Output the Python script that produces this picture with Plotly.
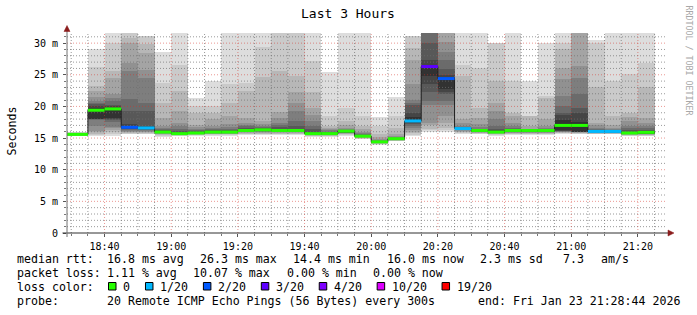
import pandas as pd
import plotly.graph_objects as go

# ---------------- data ----------------
DAY = "2026-01-23 "
window_start = DAY + "18:28:44"
window_end = DAY + "21:28:44"

bar_end_hm = ["18:35", "18:40", "18:45", "18:50", "18:55", "19:00", "19:05", "19:10",
              "19:15", "19:20", "19:25", "19:30", "19:35", "19:40", "19:45", "19:50",
              "19:55", "20:00", "20:05", "20:10", "20:15", "20:20", "20:25", "20:30",
              "20:35", "20:40", "20:45", "20:50", "20:55", "21:00", "21:05", "21:10",
              "21:15", "21:20", "21:25"]

median_ms = [15.58, 19.4, 19.6, 16.7, 16.6, 15.95, 15.7, 15.8, 15.95, 15.95,
             16.2, 16.3, 16.2, 16.2, 15.7, 15.7, 16.1, 15.3, 14.4, 14.9,
             17.7, 26.3, 24.4, 16.5, 16.2, 15.95, 16.2, 16.2, 16.2, 17.0,
             17.0, 16.05, 16.05, 15.8, 15.9]

loss_class = ["0", "0", "0", "2/20", "1/20", "0", "0", "0", "0", "0",
              "0", "0", "0", "0", "0", "0", "0", "0", "0", "0",
              "1/20", "3/20", "2/20", "1/20", "0", "0", "0", "0", "0", "0",
              "0", "1/20", "1/20", "0", "0"]

# smoke layers (outer -> inner): upper bound of each layer (pings 20..11)
smoke_hi = [
    [16.0, 15.9, 15.8, 15.75, 15.7, 15.67, 15.65, 15.63, 15.61, 15.6],
    [29.0, 26.3, 23.2, 22.4, 21.5, 20.8, 20.6, 20.4, 20.0, 19.7],
    [33.0, 30.0, 25.6, 24.5, 21.9, 21.4, 20.8, 20.3, 20.05, 19.8],
    [35.0, 33.0, 30.8, 30.0, 26.9, 25.6, 21.1, 19.3, 17.2, 16.9],
    [31.1, 31.1, 29.8, 28.5, 25.8, 24.5, 20.6, 19.3, 16.9, 16.8],
    [28.6, 23.7, 20.6, 18.2, 16.9, 16.6, 16.4, 16.2, 16.1, 16.0],
    [33.0, 26.5, 22.4, 19.3, 17.4, 16.9, 16.4, 16.1, 15.9, 15.8],
    [21.4, 20.05, 19.0, 17.0, 16.8, 16.5, 16.3, 16.1, 16.0, 15.9],
    [24.0, 20.05, 19.0, 18.0, 16.9, 16.6, 16.4, 16.2, 16.1, 16.0],
    [33.0, 23.5, 20.6, 18.5, 17.3, 16.7, 16.5, 16.3, 16.1, 16.0],
    [33.0, 23.7, 22.4, 18.2, 17.4, 17.1, 16.9, 16.6, 16.4, 16.3],
    [33.0, 29.4, 24.7, 17.7, 17.2, 16.9, 16.7, 16.6, 16.5, 16.4],
    [34.0, 33.0, 25.6, 19.1, 18.2, 17.4, 17.0, 16.7, 16.5, 16.3],
    [34.0, 33.0, 24.8, 22.2, 20.6, 19.3, 17.7, 16.9, 16.5, 16.3],
    [33.0, 27.2, 22.2, 19.8, 18.7, 17.7, 16.9, 16.4, 16.0, 15.8],
    [25.4, 18.5, 16.9, 16.6, 16.4, 16.2, 16.0, 15.9, 15.8, 15.75],
    [33.0, 19.8, 17.7, 17.0, 16.6, 16.4, 16.3, 16.25, 16.2, 16.15],
    [33.0, 18.5, 16.9, 16.4, 16.0, 15.8, 15.6, 15.5, 15.4, 15.35],
    [18.4, 16.9, 15.6, 15.2, 14.9, 14.7, 14.6, 14.5, 14.45, 14.42],
    [21.5, 18.5, 16.6, 15.6, 15.3, 15.1, 15.0, 14.95, 14.92, 14.9],
    [31.1, 31.1, 29.3, 27.4, 23.5, 21.0, 20.5, 20.3, 18.9, 18.4],
    [40.0, 39.0, 38.0, 37.0, 36.0, 35.0, 34.0, 30.0, 27.4, 26.6],
    [40.0, 38.0, 36.0, 34.0, 30.2, 28.6, 27.4, 25.9, 25.0, 24.6],
    [33.0, 26.6, 24.8, 18.0, 17.4, 16.9, 16.8, 16.7, 16.6, 16.55],
    [33.0, 26.1, 19.8, 18.2, 17.2, 16.7, 16.5, 16.4, 16.3, 16.25],
    [30.05, 30.0, 24.0, 20.6, 19.3, 18.0, 16.9, 16.5, 16.2, 16.05],
    [33.0, 24.0, 19.0, 18.5, 17.4, 16.9, 16.6, 16.45, 16.35, 16.25],
    [24.0, 18.5, 18.5, 16.9, 16.5, 16.4, 16.35, 16.3, 16.25, 16.22],
    [30.05, 21.6, 21.3, 18.0, 16.9, 16.6, 16.5, 16.4, 16.3, 16.25],
    [33.0, 30.05, 29.0, 26.1, 24.3, 21.6, 20.05, 18.9, 18.7, 17.8],
    [38.0, 36.0, 34.0, 33.0, 26.4, 24.5, 21.9, 19.8, 18.9, 17.6],
    [30.5, 30.0, 23.0, 17.4, 17.0, 16.6, 16.4, 16.3, 16.2, 16.1],
    [33.0, 24.0, 18.5, 17.0, 16.6, 16.4, 16.3, 16.2, 16.15, 16.1],
    [33.0, 25.1, 19.0, 18.4, 17.7, 16.9, 16.6, 16.2, 16.0, 15.9],
    [33.0, 26.8, 23.0, 18.2, 17.4, 16.9, 16.6, 16.3, 16.0, 15.95],
]
# lower bound of each layer (pings 1..10)
smoke_lo = [
    [15.3, 15.35, 15.4, 15.45, 15.5, 15.52, 15.54, 15.56, 15.57, 15.58],
    [15.3, 15.5, 15.7, 15.9, 16.1, 16.9, 17.9, 17.95, 18.0, 18.0],
    [15.3, 15.6, 16.0, 16.3, 16.6, 16.7, 17.5, 17.9, 18.0, 18.1],
    [15.6, 15.7, 15.8, 15.9, 16.0, 16.1, 16.2, 16.4, 16.5, 16.6],
    [15.6, 15.7, 15.8, 15.9, 16.0, 16.1, 16.2, 16.3, 16.4, 16.5],
    [15.2, 15.4, 15.5, 15.6, 15.7, 15.75, 15.8, 15.85, 15.9, 15.92],
    [15.3, 15.4, 15.45, 15.5, 15.55, 15.6, 15.62, 15.64, 15.66, 15.68],
    [15.4, 15.5, 15.55, 15.6, 15.65, 15.7, 15.72, 15.74, 15.76, 15.78],
    [15.4, 15.5, 15.6, 15.65, 15.7, 15.75, 15.8, 15.85, 15.9, 15.92],
    [15.4, 15.5, 15.6, 15.65, 15.7, 15.75, 15.8, 15.85, 15.9, 15.92],
    [15.5, 15.6, 15.7, 15.8, 15.9, 16.0, 16.05, 16.1, 16.15, 16.18],
    [15.5, 15.6, 15.7, 15.8, 15.9, 16.0, 16.1, 16.15, 16.2, 16.25],
    [15.5, 15.6, 15.7, 15.8, 15.9, 16.0, 16.05, 16.1, 16.15, 16.18],
    [15.5, 15.6, 15.7, 15.8, 15.9, 16.0, 16.05, 16.1, 16.15, 16.18],
    [15.2, 15.3, 15.4, 15.45, 15.5, 15.55, 15.6, 15.62, 15.65, 15.68],
    [15.2, 15.3, 15.4, 15.45, 15.5, 15.55, 15.6, 15.62, 15.65, 15.68],
    [15.4, 15.5, 15.6, 15.7, 15.8, 15.85, 15.9, 15.95, 16.0, 16.05],
    [14.8, 14.9, 15.0, 15.05, 15.1, 15.15, 15.2, 15.22, 15.25, 15.28],
    [13.9, 14.0, 14.1, 14.15, 14.2, 14.25, 14.3, 14.33, 14.36, 14.38],
    [14.5, 14.55, 14.6, 14.65, 14.7, 14.75, 14.8, 14.82, 14.85, 14.87],
    [15.3, 15.5, 15.8, 16.0, 16.2, 16.6, 16.9, 17.2, 17.4, 17.6],
    [15.95, 16.3, 16.5, 17.0, 17.4, 20.3, 20.8, 22.2, 23.5, 24.8],
    [15.95, 16.3, 16.6, 17.4, 18.5, 20.3, 20.8, 21.9, 22.3, 22.7],
    [15.7, 15.8, 15.9, 16.0, 16.1, 16.2, 16.25, 16.3, 16.35, 16.4],
    [15.6, 15.7, 15.8, 15.85, 15.9, 15.95, 16.0, 16.05, 16.1, 16.15],
    [15.3, 15.5, 15.6, 15.7, 15.75, 15.8, 15.85, 15.88, 15.9, 15.92],
    [15.5, 15.6, 15.7, 15.8, 15.85, 15.9, 15.95, 16.0, 16.05, 16.1],
    [15.5, 15.6, 15.7, 15.8, 15.85, 15.9, 15.95, 16.0, 16.05, 16.1],
    [15.5, 15.6, 15.7, 15.8, 15.85, 15.9, 15.95, 16.0, 16.05, 16.1],
    [15.6, 15.75, 15.85, 15.9, 15.95, 16.0, 16.05, 16.1, 16.15, 16.2],
    [15.6, 15.7, 15.8, 15.85, 15.9, 15.92, 15.94, 15.96, 15.98, 16.0],
    [15.6, 15.65, 15.7, 15.75, 15.8, 15.85, 15.9, 15.93, 15.96, 15.98],
    [15.6, 15.65, 15.7, 15.75, 15.8, 15.85, 15.9, 15.93, 15.96, 15.98],
    [15.3, 15.4, 15.5, 15.55, 15.6, 15.65, 15.7, 15.72, 15.75, 15.77],
    [15.3, 15.4, 15.5, 15.55, 15.6, 15.65, 15.7, 15.72, 15.75, 15.77],
]

x_tick_labels = ["18:40", "19:00", "19:20", "19:40", "20:00", "20:20", "20:40", "21:00", "21:20"]
y_tick_values = [0, 5, 10, 15, 20, 25, 30]
y_tick_labels = ["0", "5 m", "10 m", "15 m", "20 m", "25 m", "30 m"]
y_max = 31.6

loss_legend = ["0", "1/20", "2/20", "3/20", "4/20", "10/20", "19/20"]
loss_colors = ["#26ff00", "#00b8ff", "#0059ff", "#5e00ff", "#7e00ff", "#dd00ff", "#ff0000"]

stats_line1 = [("median rtt:", 16.7), ("16.8 ms avg", 107.3), ("26.3 ms max", 200.0),
               ("14.4 ms min", 293.3), ("16.0 ms now", 386.5), ("2.3 ms sd", 480.0),
               ("7.3", 563.0), ("am/s", 600.7)]
stats_line2 = [("packet loss:", 16.7), ("1.11 % avg", 107.3), ("10.07 % max", 193.3),
               ("0.00 % min", 286.7), ("0.00 % now", 372.7)]
stats_line4 = [("probe:", 16.7), ("20 Remote ICMP Echo Pings (56 Bytes) every 300s", 107.3),
               ("end: Fri Jan 23 21:28:44 2026", 478.3)]

# ---------------- layout constants ----------------
W, H = 697, 315
ML, MR, MT, MB = 67, 30, 33, 82
PW, PH = W - ML - MR, H - MT - MB
MONO = "DejaVu Sans Mono"
CHAR_W = 6.98
LEG_SIZE = 11.6


def px_x(px):
    return (px - ML) / PW


def px_y(py):
    return (MT + PH - py) / PH


smoke_colors = ["#%02x%02x%02x" % (c, c, c) for c in [221, 202, 183, 164, 145, 126, 107, 88, 69, 50]]

ends = [pd.Timestamp(DAY + h) for h in bar_end_hm]
starts = [pd.Timestamp(window_start)] + ends[:-1]
centers = [s + (e - s) / 2 for s, e in zip(starts, ends)]
widths = [(e - s).total_seconds() * 1000 for s, e in zip(starts, ends)]

fig = go.Figure()

# smoke
for k in range(10):
    lo = [row[k] for row in smoke_lo]
    hi = [row[k] for row in smoke_hi]
    fig.add_trace(go.Bar(
        x=centers, y=[h - l for h, l in zip(hi, lo)], base=lo, width=widths,
        marker=dict(color=smoke_colors[k], line=dict(width=0)),
        hoverinfo="skip", showlegend=False))

# grid (drawn over the smoke, like rrdtool)
t0 = pd.Timestamp(window_start)
t1 = pd.Timestamp(window_end)
major_t = [pd.Timestamp(DAY + t) for t in x_tick_labels]
all_5min = pd.date_range(t0.ceil("5min"), t1, freq="5min")
minor_t = [t for t in all_5min if t not in major_t]


def vlines(ts):
    xs, ys = [], []
    for t in ts:
        xs += [t, t, None]
        ys += [0, y_max, None]
    return xs, ys


def hlines(vals):
    xs, ys = [], []
    for v in vals:
        xs += [t0, t1, None]
        ys += [v, v, None]
    return xs, ys


minor_y = [v for v in range(1, int(y_max) + 1) if v % 5 != 0]
major_y = [v for v in range(5, int(y_max) + 1, 5)]
GRID_C = "rgba(110,110,110,0.7)"
MGRID_C = "rgba(215,50,40,0.5)"
for fn, vals, col in [(vlines, minor_t, GRID_C), (hlines, minor_y, GRID_C),
                      (vlines, major_t, MGRID_C), (hlines, major_y, MGRID_C)]:
    xs, ys = fn(vals)
    fig.add_trace(go.Scatter(x=xs, y=ys, mode="lines",
                             line=dict(color=col, width=1, dash="1px,2px"),
                             hoverinfo="skip", showlegend=False))

# median step line
fig.add_trace(go.Scatter(x=starts + [ends[-1]], y=median_ms + [median_ms[-1]],
                         mode="lines", line=dict(color="#202020", width=1, shape="hv"),
                         hoverinfo="skip", showlegend=False))

# loss-coloured median segments
for lab, col in zip(loss_legend, loss_colors):
    xs, ys = [], []
    for s, e, m, lc in zip(starts, ends, median_ms, loss_class):
        if lc == lab:
            xs += [s, e, None]
            ys += [m, m, None]
    if xs:
        fig.add_trace(go.Scatter(x=xs, y=ys, mode="lines",
                                 line=dict(color=col, width=3),
                                 hoverinfo="skip", showlegend=False))

annotations = []
shapes = []


def text(s, px, py, size=LEG_SIZE, anchor="left", color="#000000", angle=0):
    annotations.append(dict(
        text=s, x=px_x(px), y=px_y(py), xref="paper", yref="paper",
        xanchor=anchor, yanchor="middle", showarrow=False, textangle=angle,
        borderpad=0, borderwidth=0,
        font=dict(family=MONO, size=size, color=color)))


text("Last 3 Hours", 348, 13.5, size=13, anchor="center")
text("Seconds", 11, 131.5, angle=-90, anchor="center")
text("RRDTOOL / TOBI OETIKER", 688.5, 60, size=8.3, anchor="center", color="#a8a8a8", angle=90)

for s, x in stats_line1:
    text(s, x, 258.5)
for s, x in stats_line2:
    text(s, x, 272.5)
text("loss color:", 16.7, 286.5)
cx = 108.5
for lab, col in zip(loss_legend, loss_colors):
    shapes.append(dict(type="rect", xref="paper", yref="paper",
                       x0=px_x(cx), x1=px_x(cx + 7.5), y0=px_y(290), y1=px_y(282.5),
                       fillcolor=col, line=dict(color="#000000", width=1)))
    text(lab, cx + 14.8, 286.5)
    cx = cx + 14.8 + len(lab) * CHAR_W + 15.2
for s, x in stats_line4:
    text(s, x, 300.5)

# axes lines + arrows
AX_C = "#303030"
ARROW_C = "#8b1c1c"
shapes.append(dict(type="line", xref="paper", yref="paper",
                   x0=px_x(62.5), x1=px_x(668), y0=px_y(233), y1=px_y(233),
                   line=dict(color=AX_C, width=1)))
shapes.append(dict(type="line", xref="paper", yref="paper",
                   x0=px_x(67), x1=px_x(67), y0=px_y(237), y1=px_y(30),
                   line=dict(color="#707070", width=1)))
shapes.append(dict(type="path", xref="paper", yref="paper",
                   path="M %f %f L %f %f L %f %f Z" % (px_x(64), px_y(31.5), px_x(67), px_y(25.5),
                                                      px_x(70), px_y(31.5)),
                   fillcolor=ARROW_C, line=dict(color=ARROW_C, width=0.5)))
shapes.append(dict(type="path", xref="paper", yref="paper",
                   path="M %f %f L %f %f L %f %f Z" % (px_x(668), px_y(230), px_x(674), px_y(233),
                                                      px_x(668), px_y(236)),
                   fillcolor=ARROW_C, line=dict(color=ARROW_C, width=0.5)))

fig.update_layout(
    width=W, height=H,
    margin=dict(l=ML, r=MR, t=MT, b=MB, pad=0),
    paper_bgcolor="#ffffff", plot_bgcolor="#ffffff",
    barmode="overlay", bargap=0,
    showlegend=False, hovermode=False,
    annotations=annotations, shapes=shapes,
    xaxis=dict(type="date", range=[t0, t1], showgrid=False, zeroline=False, showline=False,
               tickvals=major_t, ticktext=x_tick_labels,
               ticks="outside", ticklen=3, tickcolor="#555555", tickwidth=1,
               minor=dict(ticks="outside", ticklen=2, tickcolor="#777777",
                          tick0=DAY + "18:30", dtick=300000, showgrid=False),
               tickfont=dict(family=MONO, size=10, color="#000000"),
               ticklabelstandoff=1, fixedrange=True),
    yaxis=dict(range=[0, y_max], showgrid=False, zeroline=False, showline=False,
               tickvals=y_tick_values, ticktext=y_tick_labels,
               ticks="outside", ticklen=3, tickcolor="#555555", tickwidth=1,
               minor=dict(ticks="outside", ticklen=2, tickcolor="#777777",
                          tick0=0, dtick=1, showgrid=False),
               tickfont=dict(family=MONO, size=10, color="#000000"),
               ticklabelstandoff=3, fixedrange=True),
)

fig.write_html("out.html")
